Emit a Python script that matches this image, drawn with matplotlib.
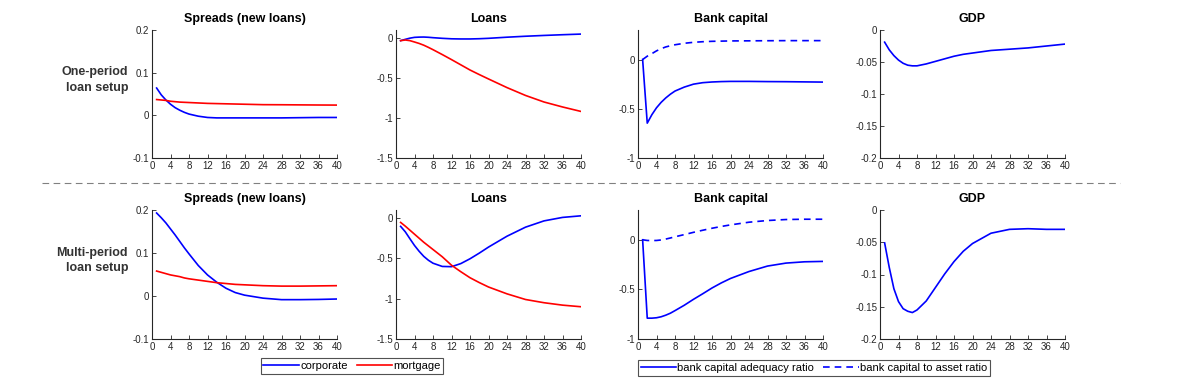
import matplotlib
matplotlib.use("Agg")
import matplotlib.pyplot as plt
from matplotlib.lines import Line2D

plt.rcParams['font.family'] = ['Liberation Sans', 'DejaVu Sans']

# --- Data (quarters after the shock) ---
quarters = [1, 2, 3, 4, 5, 6, 7, 8, 10, 12, 14, 16, 18, 20, 24, 28, 32, 36, 40]

# one-period loan setup
op_spread_corp = [0.064, 0.048, 0.036, 0.026, 0.018, 0.012, 0.007, 0.003, -0.002, -0.005,
                  -0.006, -0.006, -0.006, -0.006, -0.006, -0.006, -0.0055, -0.005, -0.005]
op_spread_mort = [0.037, 0.036, 0.035, 0.033, 0.032, 0.031, 0.0305, 0.030, 0.029, 0.028,
                  0.0275, 0.027, 0.0265, 0.026, 0.025, 0.0248, 0.0245, 0.0242, 0.024]
op_loans_corp = [-0.033, -0.017, -0.002, 0.008, 0.011, 0.012, 0.009, 0.004, -0.004, -0.010,
                 -0.012, -0.012, -0.009, -0.004, 0.010, 0.022, 0.032, 0.041, 0.049]
op_loans_mort = [-0.033, -0.025, -0.033, -0.050, -0.068, -0.090, -0.117, -0.146, -0.207, -0.270,
                 -0.335, -0.400, -0.457, -0.512, -0.620, -0.718, -0.800, -0.862, -0.918]
op_cap_ratio = [0.0, -0.646, -0.56, -0.49, -0.435, -0.39, -0.352, -0.32, -0.28, -0.25,
                -0.235, -0.228, -0.224, -0.222, -0.222, -0.224, -0.225, -0.227, -0.229]
op_cap_asset = [0.0, 0.034, 0.06, 0.088, 0.110, 0.128, 0.140, 0.150, 0.165, 0.175,
                0.181, 0.185, 0.187, 0.189, 0.190, 0.191, 0.192, 0.192, 0.192]
op_gdp = [-0.019, -0.031, -0.040, -0.047, -0.052, -0.055, -0.056, -0.056, -0.053, -0.049,
          -0.045, -0.041, -0.038, -0.036, -0.032, -0.030, -0.028, -0.025, -0.022]

# multi-period loan setup
mp_spread_corp = [0.193, 0.182, 0.170, 0.156, 0.142, 0.127, 0.112, 0.098, 0.071, 0.049,
                  0.032, 0.018, 0.008, 0.002, -0.005, -0.0085, -0.0085, -0.008, -0.007]
mp_spread_mort = [0.058, 0.055, 0.052, 0.049, 0.047, 0.045, 0.042, 0.040, 0.037, 0.034,
                  0.031, 0.029, 0.027, 0.026, 0.024, 0.023, 0.023, 0.0235, 0.024]
mp_loans_corp = [-0.103, -0.170, -0.256, -0.340, -0.412, -0.475, -0.523, -0.560, -0.600, -0.603,
                 -0.565, -0.505, -0.435, -0.360, -0.225, -0.113, -0.035, 0.008, 0.028]
mp_loans_mort = [-0.054, -0.100, -0.150, -0.200, -0.250, -0.300, -0.345, -0.390, -0.480, -0.585,
                 -0.665, -0.740, -0.800, -0.855, -0.940, -1.010, -1.050, -1.080, -1.100]
mp_cap_ratio = [0.0, -0.79, -0.79, -0.786, -0.776, -0.76, -0.740, -0.714, -0.66, -0.60,
                -0.544, -0.486, -0.435, -0.390, -0.320, -0.265, -0.235, -0.222, -0.218]
mp_cap_asset = [0.0, -0.007, -0.008, -0.007, -0.002, 0.007, 0.018, 0.030, 0.052, 0.075,
                0.096, 0.116, 0.134, 0.150, 0.177, 0.194, 0.204, 0.207, 0.207]
mp_gdp = [-0.051, -0.089, -0.122, -0.142, -0.153, -0.157, -0.159, -0.155, -0.141, -0.120,
          -0.099, -0.080, -0.064, -0.052, -0.036, -0.030, -0.029, -0.030, -0.030]

titles = ["Spreads (new loans)", "Loans", "Bank capital", "GDP"]
row_labels = ["One-period\nloan setup", "Multi-period\nloan setup"]
ylims = [(-0.1, 0.2), (-1.5, 0.1), (-1.0, 0.3), (-0.2, 0.0)]
yticks = [[-0.1, 0, 0.1, 0.2], [-1.5, -1, -0.5, 0], [-1, -0.5, 0],
          [-0.2, -0.15, -0.1, -0.05, 0]]
xticks = list(range(0, 41, 4))

rows = [
    [(op_spread_corp, op_spread_mort), (op_loans_corp, op_loans_mort),
     (op_cap_ratio, op_cap_asset), (op_gdp,)],
    [(mp_spread_corp, mp_spread_mort), (mp_loans_corp, mp_loans_mort),
     (mp_cap_ratio, mp_cap_asset), (mp_gdp,)],
]

W, H = 1178, 380
fig = plt.figure(figsize=(W / 100, H / 100), dpi=100)

lefts = [152, 396, 638, 880]
axw = 185
row_px = [(30, 158), (210, 339)]
axis_col = '#262626'


def fmt(v):
    s = f"{v:g}"
    return "0" if s in ("-0", "0") else s


for r, (top, bot) in enumerate(row_px):
    for c in range(4):
        ax = fig.add_axes([lefts[c] / W, 1 - bot / H, axw / W, (bot - top) / H])
        series = rows[r][c]
        if c in (0, 1):
            ax.plot(quarters, series[0], color='blue', lw=1.2)
            ax.plot(quarters, series[1], color='red', lw=1.2)
        elif c == 2:
            ax.plot(quarters, series[0], color='blue', lw=1.2)
            ax.plot(quarters, series[1], color='blue', lw=1.2, ls=(0, (4, 3)))
        else:
            ax.plot(quarters, series[0], color='blue', lw=1.2)
        ax.set_xlim(0, 40)
        ax.set_ylim(*ylims[c])
        ax.set_xticks(xticks)
        ax.set_yticks(yticks[c])
        ax.set_yticklabels([fmt(v) for v in yticks[c]])
        ax.tick_params(direction='in', length=3, width=0.6, labelsize=7,
                       colors=axis_col, pad=2)
        for side in ('top', 'right'):
            ax.spines[side].set_visible(False)
        for side in ('left', 'bottom'):
            ax.spines[side].set_color(axis_col)
            ax.spines[side].set_linewidth(0.8)
        ax.set_title(titles[c], fontsize=9, fontweight='bold', pad=6)
    fig.text(128 / W, 1 - ((top + bot) / 2 - 14) / H, row_labels[r], ha='right',
             va='center', multialignment='right', fontsize=9, fontweight='bold',
             color='#333333', linespacing=1.35)

# separator between the two setups
fig.add_artist(Line2D([42 / W, 1120 / W], [1 - 183 / H, 1 - 183 / H],
                      color='#808080', lw=0.8, ls=(0, (6, 4))))

h1 = [Line2D([], [], color='blue', lw=1.2), Line2D([], [], color='red', lw=1.2)]
leg1 = fig.legend(h1, ['corporate', 'mortgage'], loc='center',
                  bbox_to_anchor=(352 / W, 1 - 366 / H), ncol=2, fontsize=8,
                  frameon=True, fancybox=False, edgecolor='#262626',
                  handlelength=3.2, handletextpad=0.1, columnspacing=0.8,
                  borderpad=0.25, borderaxespad=0)
leg1.get_frame().set_linewidth(0.8)

h2 = [Line2D([], [], color='blue', lw=1.2),
      Line2D([], [], color='blue', lw=1.2, ls=(0, (4, 3)))]
leg2 = fig.legend(h2, ['bank capital adequacy ratio', 'bank capital to asset ratio'],
                  loc='center', bbox_to_anchor=(814 / W, 1 - 368 / H), ncol=2,
                  fontsize=8, frameon=True, fancybox=False, edgecolor='#262626',
                  handlelength=3.2, handletextpad=0.1, columnspacing=0.8,
                  borderpad=0.25, borderaxespad=0)
leg2.get_frame().set_linewidth(0.8)

fig.savefig("out.png", dpi=100)
